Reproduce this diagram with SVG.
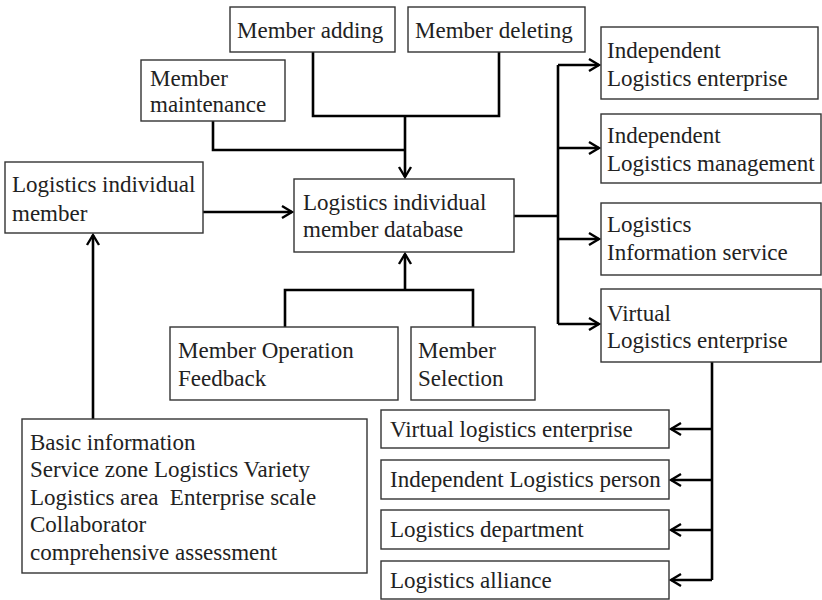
<svg xmlns="http://www.w3.org/2000/svg" width="822" height="600" viewBox="0 0 822 600">
<defs>
<marker id="arr" markerUnits="userSpaceOnUse" markerWidth="16" markerHeight="16" refX="13" refY="8" orient="auto">
<path d="M3,2 L13,8 L3,14" fill="none" stroke="#000" stroke-width="2.4"/>
</marker>
<style>
.box{fill:#fff;stroke:#333;stroke-width:1.4}
.c{fill:none;stroke:#000;stroke-width:2.6}
</style>
</defs>
<rect width="822" height="600" fill="#fff"/>
<g id="connectors">
<path class="c" d="M313,52 V116 H499 V52"/>
<path class="c" d="M213,121 V150 H405"/>
<path class="c" d="M405,116 V177" marker-end="url(#arr)"/>
<path class="c" d="M203,212 H292" marker-end="url(#arr)"/>
<path class="c" d="M93,419 V235" marker-end="url(#arr)"/>
<path class="c" d="M285,327 V290 H473 V327"/>
<path class="c" d="M405,290 V254" marker-end="url(#arr)"/>
<path class="c" d="M514,216 H558"/>
<path class="c" d="M558,65 V324"/>
<path class="c" d="M558,65 H599" marker-end="url(#arr)"/>
<path class="c" d="M558,148 H599" marker-end="url(#arr)"/>
<path class="c" d="M558,239 H599" marker-end="url(#arr)"/>
<path class="c" d="M558,324 H599" marker-end="url(#arr)"/>
<path class="c" d="M712,362 V580"/>
<path class="c" d="M712,429 H671" marker-end="url(#arr)"/>
<path class="c" d="M712,480 H671" marker-end="url(#arr)"/>
<path class="c" d="M712,530 H671" marker-end="url(#arr)"/>
<path class="c" d="M712,580 H671" marker-end="url(#arr)"/>
</g>
<g font-family="Liberation Serif, Times New Roman, serif" font-size="23" fill="#222">
<g id="member-adding"><rect class="box" x="230" y="7" width="165" height="45"/><text x="237" y="38">Member adding</text></g>
<g id="member-deleting"><rect class="box" x="408" y="7" width="177" height="45"/><text x="415" y="38">Member deleting</text></g>
<g id="member-maintenance"><rect class="box" x="141" y="60" width="144" height="61"/><text x="150" y="86">Member</text><text x="150" y="112">maintenance</text></g>
<g id="logistics-individual-member"><rect class="box" x="5" y="162" width="198" height="71"/><text x="12" y="192">Logistics individual</text><text x="12" y="221">member</text></g>
<g id="database"><rect class="box" x="294" y="179" width="220" height="73"/><text x="303" y="210">Logistics individual</text><text x="303" y="237">member database</text></g>
<g id="member-operation-feedback"><rect class="box" x="170" y="327" width="228" height="73"/><text x="178" y="358">Member Operation</text><text x="178" y="386">Feedback</text></g>
<g id="member-selection"><rect class="box" x="411" y="327" width="124" height="73"/><text x="418" y="358">Member</text><text x="418" y="386">Selection</text></g>
<g id="independent-logistics-enterprise"><rect class="box" x="601" y="27" width="217" height="72"/><text x="607" y="58">Independent</text><text x="607" y="86">Logistics enterprise</text></g>
<g id="independent-logistics-management"><rect class="box" x="601" y="114" width="220" height="69"/><text x="607" y="143">Independent</text><text x="607" y="171">Logistics management</text></g>
<g id="logistics-information-service"><rect class="box" x="601" y="203" width="220" height="72"/><text x="607" y="232">Logistics</text><text x="607" y="260">Information service</text></g>
<g id="virtual-logistics-enterprise-top"><rect class="box" x="601" y="289" width="220" height="73"/><text x="607" y="321">Virtual</text><text x="607" y="348">Logistics enterprise</text></g>
<g id="virtual-logistics-enterprise"><rect class="box" x="381" y="410" width="288" height="38"/><text x="390" y="437">Virtual logistics enterprise</text></g>
<g id="independent-logistics-person"><rect class="box" x="381" y="460" width="288" height="39"/><text x="390" y="487">Independent Logistics person</text></g>
<g id="logistics-department"><rect class="box" x="381" y="510" width="288" height="39"/><text x="390" y="537">Logistics department</text></g>
<g id="logistics-alliance"><rect class="box" x="381" y="561" width="288" height="38"/><text x="390" y="588">Logistics alliance</text></g>
<g id="basic-information"><rect class="box" x="22" y="419" width="345" height="154"/>
<text x="30" y="450">Basic information</text>
<text x="30" y="477">Service zone Logistics Variety</text>
<text x="30" y="505" xml:space="preserve">Logistics area  Enterprise scale</text>
<text x="30" y="532">Collaborator</text>
<text x="30" y="560">comprehensive assessment</text>
</g>
</g>
</svg>
